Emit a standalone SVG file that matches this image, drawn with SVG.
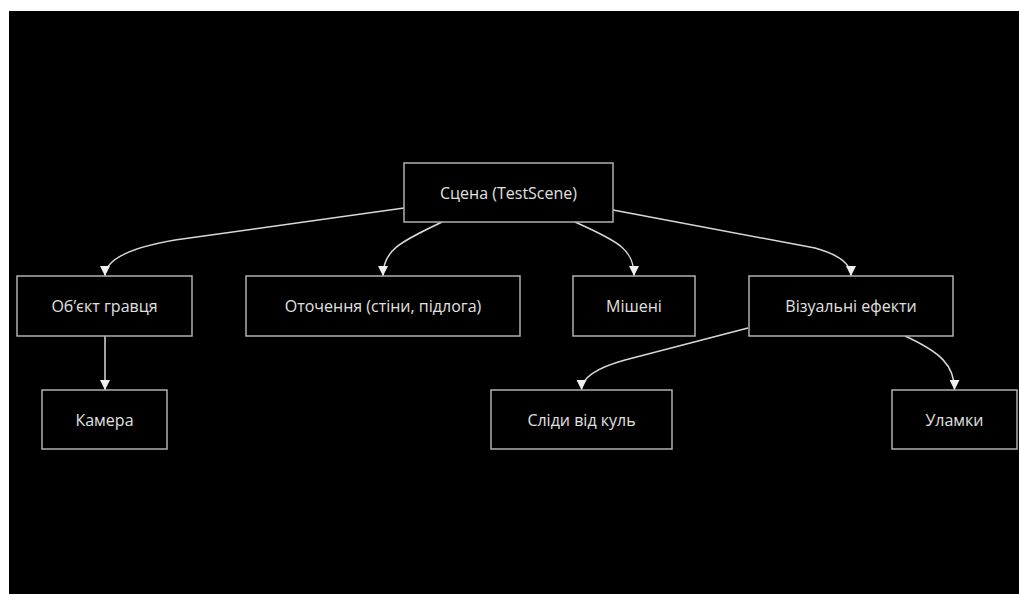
<svg xmlns="http://www.w3.org/2000/svg" width="1019" height="594" viewBox="0 0 1019 594">
<style>
.node rect{fill:#000;stroke:#b0b0b0;stroke-width:1.5}
.node text{fill:#e0e0e0;font-family:"Open Sans","Liberation Sans",sans-serif;font-size:16px;text-anchor:middle;dominant-baseline:central}
.edge{fill:none;stroke:#d8d8d8;stroke-width:1.5;marker-end:url(#arrow)}
</style>
<defs>
<marker id="arrow" viewBox="0 0 10 10" refX="10" refY="5" markerWidth="10" markerHeight="10" markerUnits="userSpaceOnUse" orient="auto">
<path d="M0,0 L10,5 L0,10 z" fill="#f0f0f0"/>
</marker>
</defs>
<rect x="0" y="0" width="1019" height="594" fill="#fff"/>
<rect x="9" y="11" width="1010" height="583" fill="#000"/>
<g id="connectors">
<path class="edge" d="M404,208 L175,240 Q105,252 105,276"/>
<path class="edge" d="M442,222 C400,242 383,250 383,276"/>
<path class="edge" d="M575,222 C620,242 634,250 634,276"/>
<path class="edge" d="M613,210 L815,248 Q851,258 851,276"/>
<path class="edge" d="M105,336 L105,390"/>
<path class="edge" d="M748,328 L625,360 Q581.5,372 581.5,390"/>
<path class="edge" d="M905,336 C940,352 954.5,365 954.5,390"/>
</g>
<g id="scene" class="node"><rect x="404" y="163" width="209" height="59"/><text x="508.5" y="193">Сцена (TestScene)</text></g>
<g id="player" class="node"><rect x="17" y="276" width="175" height="60"/><text x="104.5" y="306">Обʼєкт гравця</text></g>
<g id="environment" class="node"><rect x="246" y="276" width="274" height="60"/><text x="383" y="306">Оточення (стіни, підлога)</text></g>
<g id="targets" class="node"><rect x="573" y="276" width="122" height="60"/><text x="634" y="306">Мішені</text></g>
<g id="vfx" class="node"><rect x="749" y="276" width="204" height="60"/><text x="851" y="306">Візуальні ефекти</text></g>
<g id="camera" class="node"><rect x="42" y="390" width="125" height="59"/><text x="104.5" y="420">Камера</text></g>
<g id="bullets" class="node"><rect x="491" y="390" width="181" height="59"/><text x="581.5" y="420">Сліди від куль</text></g>
<g id="debris" class="node"><rect x="892" y="390" width="125" height="59"/><text x="954.5" y="420">Уламки</text></g>
</svg>
